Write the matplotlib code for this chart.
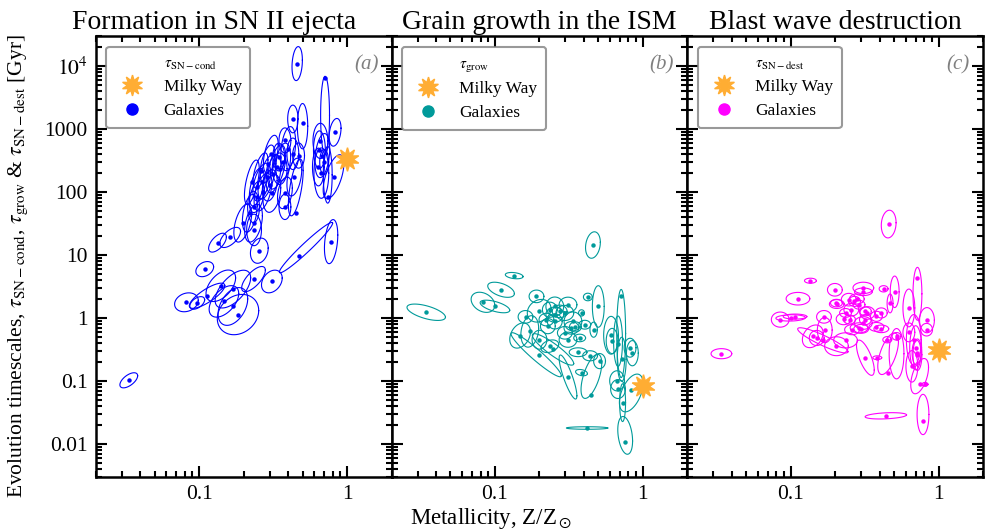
import numpy as np
import matplotlib
matplotlib.use('Agg')
import matplotlib.pyplot as plt
from matplotlib.lines import Line2D
from matplotlib.ticker import FixedLocator, FixedFormatter, LogLocator, NullFormatter

plt.rcParams['font.family'] = ['Liberation Serif', 'DejaVu Serif']
plt.rcParams['mathtext.fontset'] = 'stix'

# ---- panel (a): formation in SN II ejecta ----
# metallicity, timescale [Gyr], contour half-widths (dex), correlation, contour centre offsets (dex)
a_z = [0.46, 0.71, 0.43, 0.50, 0.83, 0.66, 0.65, 0.68, 0.64, 0.67, 0.70, 0.81, 0.74, 0.45,
       0.38, 0.40, 0.47, 0.43, 0.305, 0.37, 0.335, 0.318, 0.287, 0.265, 0.30, 0.27, 0.245,
       0.227, 0.245, 0.31, 0.233, 0.22, 0.35, 0.38, 0.38, 0.44, 0.345, 0.29, 0.26,
       0.197, 0.233, 0.235, 0.162, 0.133, 0.255, 0.78, 0.47, 0.109, 0.082, 0.097, 0.113,
       0.14, 0.169, 0.147, 0.169, 0.183, 0.233, 0.31, 0.0334]
a_tau = [11000, 6600, 1450, 1250, 890, 650, 470, 380, 250, 200, 300, 175, 84, 47,
         660, 490, 380, 405, 400, 300, 250, 195, 174, 144, 128, 100, 120,
         144, 84, 95, 58, 46, 235, 97, 58, 173, 360, 280, 220,
         32, 32, 25, 19, 15.7, 11.7, 16.3, 9.7, 5.96, 1.77, 1.73, 2.25,
         3.24, 2.87, 1.83, 1.52, 1.13, 4.14, 3.79, 0.102]
a_sx = [.035, .03, .035, .035, .04, .05, .04, .05, .04, .05, .03, .07, .03, .05,
        .04, .05, .04, .04, .05, .05, .06, .05, .06, .06, .05, .06, .05,
        .05, .05, .06, .04, .05, .05, .05, .04, .05, .04, .05, .05,
        .06, .06, .05, .07, .06, .06, .045, .18, .06, .08, .05, .12,
        .10, .12, .10, .10, .14, .08, .07, .06]
a_sy = [.27, .62, .22, .36, .22, .28, .30, .35, .30, .40, .20, .35, .45, .45,
        .20, .35, .20, .25, .30, .30, .35, .30, .35, .30, .25, .30, .30,
        .35, .25, .30, .25, .30, .25, .25, .20, .30, .22, .30, .28,
        .30, .30, .25, .16, .15, .20, .35, .40, .12, .15, .10, .20,
        .25, .30, .25, .30, .32, .20, .18, .12]
a_rho = [.2, 0, 0, 0, .3, 0, 0, .3, 0, 0, 0, .6, 0, .6,
         0, .3, 0, 0, .5, .3, .5, .4, .6, .5, .3, .5, .5,
         .6, .4, .3, 0, .4, 0, .3, 0, .4, 0, .5, .6,
         .5, .4, 0, .6, .6, .2, .3, .97, .3, .2, .5, .8,
         .5, .6, .5, .4, .2, .7, .3, .6]
a_dx = [0] * 46 + [.05] + [0] * 12
a_dy = [0, -.6, 0, -.05] + [0] * 8 + [.35, .4] + [0] * 32 + [.13] + [0] * 12

# ---- panel (b): grain growth in the ISM ----
b_z = [0.46, 0.0343, 0.135, 0.11, 0.083, 0.10, 0.161, 0.148, 0.172, 0.20, 0.199, 0.247,
       0.191, 0.199, 0.254, 0.235, 0.254, 0.274, 0.223, 0.254, 0.228, 0.312, 0.297, 0.337,
       0.329, 0.35, 0.297, 0.312, 0.374, 0.405, 0.385, 0.50, 0.425, 0.465, 0.235, 0.365,
       0.44, 0.51, 0.312, 0.385, 0.449, 0.714, 0.61, 0.62, 0.68, 0.72, 0.82, 0.85,
       0.67, 0.68, 0.835, 0.73, 0.42, 0.76]
b_tau = [14.4, 1.23, 4.7, 2.8, 1.77, 1.52, 1.04, 0.525, 0.61, 0.45, 0.26, 0.316,
         2.2, 1.3, 1.52, 1.35, 1.13, 1.27, 0.94, 0.88, 0.74, 1.62, 1.2, 0.88,
         0.695, 0.72, 0.58, 0.45, 0.48, 0.78, 1.2, 1.52, 2.15, 0.65, 0.355, 0.285,
         0.25, 0.206, 0.115, 0.135, 0.059, 2.25, 0.53, 0.43, 0.38, 0.22, 0.336, 0.275,
         0.1, 0.074, 0.072, 0.045, 0.0178, 0.0108]
b_sx = [.05, .13, .06, .09, .08, .10, .05, .07, .06, .05, .17, .14,
        .05, .08, .06, .05, .06, .05, .05, .05, .05, .06, .06, .06,
        .05, .04, .05, .06, .04, .04, .02, .04, .03, .025, .06, .06,
        .05, .04, .06, .04, .07, .03, .05, .04, .03, .03, .04, .04,
        .05, .05, .08, .02, .14, .05]
b_sy = [.21, .13, .05, .12, .16, .10, .10, .20, .25, .15, .35, .25,
        .10, .18, .15, .12, .12, .10, .10, .12, .12, .12, .12, .15,
        .10, .08, .10, .12, .06, .07, .05, .33, .06, .12, .10, .07,
        .08, .12, .35, .05, .35, .70, .30, .20, .40, .35, .15, .20,
        .16, .15, .30, .30, .02, .30]
b_rho = [.2, -.6, -.3, -.5, -.3, -.6, 0, .3, .2, 0, -.95, -.9,
         0, .2, 0, 0, 0, 0, 0, 0, 0, 0, 0, 0,
         0, 0, 0, 0, 0, 0, 0, 0, 0, 0, .3, 0,
         0, 0, -.85, -.3, .6, 0, 0, 0, 0, 0, 0, 0,
         0, 0, .5, 0, 0, -.3]
b_dx = [0] * 10 + [-.02] + [0] * 43
b_dy = [0] * 40 + [.3, -.6, 0, 0, .05, 0, 0, 0, 0, 0, -.05, 0, 0, .1]

# ---- panel (c): blast wave destruction ----
c_z = [0.46, 0.034, 0.136, 0.112, 0.085, 0.10, 0.107, 0.168, 0.17, 0.141, 0.15, 0.165,
       0.199, 0.204, 0.235, 0.32, 0.385, 0.456, 0.44, 0.785, 0.745, 0.81, 0.72, 0.63,
       0.505, 0.425, 0.47, 0.835, 0.83, 0.63, 0.68, 0.45, 0.52, 0.70, 0.71, 0.72,
       0.31, 0.31, 0.205, 0.247, 0.27, 0.28, 0.29, 0.257, 0.235, 0.228, 0.25, 0.32,
       0.33, 0.38, 0.41, 0.32, 0.31, 0.29, 0.30, 0.38, 0.41, 0.26, 0.204, 0.52, 0.66]
c_tau = [31, 0.27, 3.9, 2.02, 0.94, 1.0, 1.05, 1.04, 0.64, 0.51, 0.48, 0.44,
         2.8, 1.72, 0.44, 0.233, 0.233, 0.135, 0.0278, 0.0232, 0.088, 0.088, 4.3, 1.44,
         2.6, 2.9, 1.7, 0.92, 0.65, 0.59, 0.45, 0.45, 0.48, 0.336, 0.28, 0.26,
         3.0, 2.6, 1.66, 1.95, 1.83, 2.0, 1.62, 1.35, 1.2, 0.96, 0.94, 1.27,
         1.2, 1.06, 1.2, 0.94, 0.83, 0.695, 0.67, 0.72, 0.67, 0.65, 0.355, 0.51, 0.17]
c_sx = [.05, .07, .04, .08, .06, .10, .08, .05, .05, .07, .05, .17,
        .05, .04, .08, .06, .03, .07, .14, .04, .06, .02, .03, .04,
        .03, .03, .02, .05, .04, .04, .05, .03, .05, .04, .03, .03,
        .07, .06, .05, .05, .04, .05, .04, .05, .04, .05, .04, .04,
        .05, .04, .04, .04, .06, .06, .05, .05, .05, .05, .08, .03, .04]
c_sy = [.22, .08, .04, .10, .12, .05, .04, .10, .20, .18, .12, .20,
        .10, .06, .12, .28, .03, .33, .05, .32, .28, .03, .42, .30,
        .25, .05, .15, .20, .10, .15, .40, .05, .40, .35, .20, .25,
        .09, .06, .07, .10, .08, .08, .07, .10, .07, .09, .07, .07,
        .10, .08, .08, .08, .10, .08, .07, .07, .06, .08, .15, .06, .25]
c_rho = [.1, 0, 0, 0, 0, .1, 0, 0, 0, .3, 0, -.9,
         0, 0, 0, -.7, 0, .6, .3, 0, .5, 0, 0, 0,
         0, 0, 0, 0, 0, 0, 0, 0, 0, 0, 0, 0,
         0, 0, 0, 0, 0, 0, 0, 0, 0, 0, 0, 0,
         0, 0, 0, 0, 0, 0, 0, 0, 0, 0, 0, 0, 0]
c_dx = [0] * 61
c_dy = [0] * 17 + [.3, 0, .1, .13, 0, -.25] + [0] * 9 + [-.25] + [0] * 28

# Milky Way values
mw_z = [1.0, 1.0, 1.0]
mw_tau = [340, 0.083, 0.31]

titles = ['Formation in SN II ejecta', 'Grain growth in the ISM', 'Blast wave destruction']
title_x = [0.40, 0.5, 0.5]
tau_names = [r'$\tau_{\rm SN-cond}$', r'$\tau_{\rm grow}$', r'$\tau_{\rm SN-dest}$']
panel_tags = ['(a)', '(b)', '(c)']
colors = ['#0000ff', '#009a9a', '#ff00ff']

panels = [
    (a_z, a_tau, a_sx, a_sy, a_rho, a_dx, a_dy),
    (b_z, b_tau, b_sx, b_sy, b_rho, b_dx, b_dy),
    (c_z, c_tau, c_sx, c_sy, c_rho, c_dx, c_dy),
]

fig, axes = plt.subplots(1, 3, figsize=(9.88, 5.32), dpi=100, sharey=True)
fig.subplots_adjust(left=0.097, right=0.995, bottom=0.104, top=0.932, wspace=0)

t = np.linspace(0, 2 * np.pi, 120)
for i, ax in enumerate(axes):
    z, tau, sx, sy, rho, dx, dy = [np.asarray(v, dtype=float) for v in panels[i]]
    col = colors[i]

    # uncertainty contours, drawn in log space
    for k in range(len(z)):
        cx = np.log10(z[k]) + dx[k]
        cy = np.log10(tau[k]) + dy[k]
        lx = cx + sx[k] * np.cos(t)
        ly = cy + sy[k] * (rho[k] * np.cos(t) + np.sqrt(1 - rho[k] ** 2) * np.sin(t))
        ax.plot(10 ** lx, 10 ** ly, color=col, lw=0.8, zorder=2)

    ax.plot(z, tau, 'o', color=col, ms=3.2, mec='none', zorder=3)
    ax.plot(mw_z[i], mw_tau[i], marker=(10, 1, 0), color='#ffad33', ms=17,
            mec='#ffad33', ls='none', zorder=4)

    ax.set_xscale('log')
    ax.set_yscale('log')
    ax.set_xlim(0.02, 2)
    ax.set_ylim(3e-3, 3e4)

    ax.xaxis.set_major_locator(FixedLocator([0.1, 1]))
    ax.xaxis.set_major_formatter(FixedFormatter(['0.1', '1']))
    ax.xaxis.set_minor_locator(LogLocator(base=10, subs=np.arange(2, 10)))
    ax.xaxis.set_minor_formatter(NullFormatter())
    ax.yaxis.set_major_locator(FixedLocator([0.01, 0.1, 1, 10, 100, 1000, 1e4]))
    ax.yaxis.set_major_formatter(FixedFormatter(['0.01', '0.1', '1', '10', '100', '1000', r'$10^4$']))
    ax.yaxis.set_minor_locator(LogLocator(base=10, subs=np.arange(2, 10)))
    ax.yaxis.set_minor_formatter(NullFormatter())

    ax.tick_params(which='both', direction='in', top=True, right=True, labelsize=15.5, width=1.5)
    ax.tick_params(which='major', length=8, pad=6)
    ax.tick_params(which='minor', length=4.5)
    for s in ax.spines.values():
        s.set_linewidth(1.8)

    ax.set_title(titles[i], fontsize=20, pad=5, x=title_x[i])
    ax.text(0.955, 0.935, panel_tags[i], transform=ax.transAxes, ha='right', va='center',
            fontsize=15, style='italic', color='#808080')

    handles = [
        Line2D([], [], ls='none', marker='none'),
        Line2D([], [], ls='none', marker=(10, 1, 0), color='#ffad33', ms=15),
        Line2D([], [], ls='none', marker='o', color=col, ms=8),
    ]
    leg = ax.legend(handles, [tau_names[i], 'Milky Way', 'Galaxies'], loc='upper left',
                    fontsize=12.5, frameon=True, fancybox=True, borderaxespad=0.6,
                    handletextpad=0.8, labelspacing=0.45, borderpad=0.5)
    leg.get_frame().set_edgecolor('#808080')
    leg.get_frame().set_linewidth(1.5)
    leg.get_texts()[0].set_fontsize(11)

    if i > 0:
        ax.tick_params(labelleft=False)

fig.text(0.018, 0.5, r'Evolution timescales, $\tau_{\rm SN-cond}$, $\tau_{\rm grow}$ & $\tau_{\rm SN-dest}$ [Gyr]',
         rotation=90, ha='center', va='center', fontsize=15.5)
fig.text(0.497, 0.025, r'Metallicity, Z/Z$_\odot$', ha='center', va='center', fontsize=16.5)

fig.savefig('out.png', dpi=100)
